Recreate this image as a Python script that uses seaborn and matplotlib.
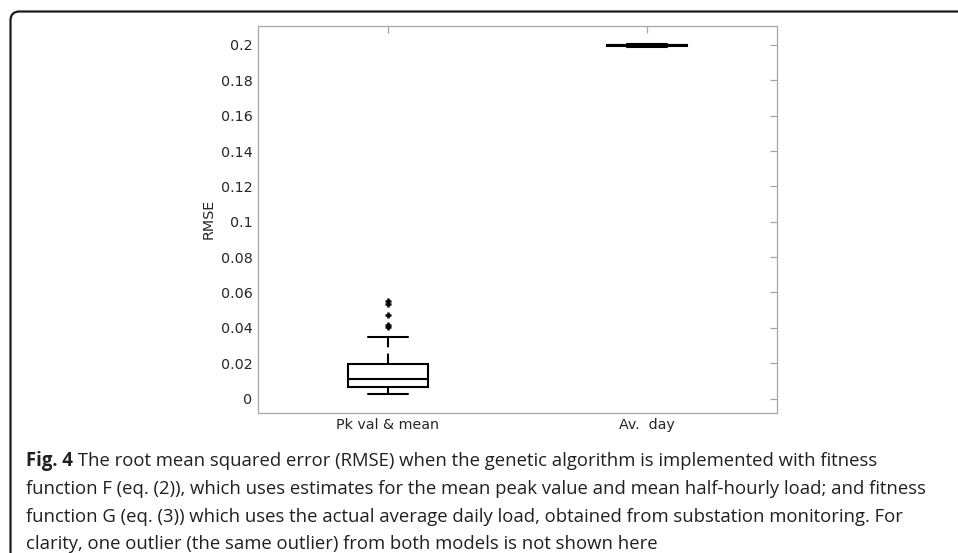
import numpy as np
import pandas as pd
import matplotlib
matplotlib.use("Agg")
import matplotlib.pyplot as plt
import seaborn as sns
from matplotlib.patches import FancyBboxPatch
from matplotlib.transforms import IdentityTransform

# ---------------- data ----------------
categories = ["Pk val & mean", "Av.  day"]
pk_rmse = [0.0025, 0.0035, 0.0045, 0.0052, 0.0057, 0.0061, 0.0065, 0.0074,
           0.0082, 0.0090, 0.0097, 0.0104, 0.0110, 0.0122, 0.0135, 0.0150,
           0.0166, 0.0181, 0.0195, 0.0350, 0.0402, 0.0416, 0.0470, 0.0532,
           0.0550]
av_rmse = [0.1991, 0.1993, 0.1994, 0.1995, 0.1995, 0.1996, 0.1996, 0.1997,
           0.1997, 0.1997, 0.1998, 0.1998, 0.1998, 0.1998, 0.1999, 0.1999,
           0.1999, 0.2000, 0.2000, 0.2000, 0.2001, 0.2002, 0.2003, 0.2004,
           0.2005]
yticks = [0, 0.02, 0.04, 0.06, 0.08, 0.1, 0.12, 0.14, 0.16, 0.18, 0.2]
ytick_labels = ["0", "0.02", "0.04", "0.06", "0.08", "0.1", "0.12", "0.14",
                "0.16", "0.18", "0.2"]
y_label = "RMSE"
caption_bold = "Fig. 4"
caption_lines = [
    " The root mean squared error (RMSE) when the genetic algorithm is implemented with fitness",
    "function F (eq. (2)), which uses estimates for the mean peak value and mean half-hourly load; and fitness",
    "function G (eq. (3)) which uses the actual average daily load, obtained from substation monitoring. For",
    "clarity, one outlier (the same outlier) from both models is not shown here",
]

df = pd.DataFrame({
    "model": [categories[0]] * len(pk_rmse) + [categories[1]] * len(av_rmse),
    "rmse": pk_rmse + av_rmse,
})

# ---------------- style ----------------
sns.set_theme(style="white")
plt.rcParams['font.family'] = ['DejaVu Sans']

W, H = 958, 553
fig = plt.figure(figsize=(W / 100, H / 100), dpi=100)
fig.patch.set_facecolor("white")

ax_l, ax_r, ax_t, ax_b = 258, 777, 26, 412.5
ax = fig.add_axes([ax_l / W, 1 - ax_b / H, (ax_r - ax_l) / W, (ax_b - ax_t) / H])

sns.boxplot(
    data=df, x="model", y="rmse", order=categories, ax=ax,
    width=0.31, color="white", linecolor="black", linewidth=1.5,
    whis=1.5, fliersize=5,
    flierprops=dict(marker="+", markeredgecolor="black", markeredgewidth=1.8),
    whiskerprops=dict(linestyle=(0, (5, 3))),
    capprops=dict(linestyle="-"),
    medianprops=dict(color="black"),
)

ax.set_xlim(-0.5, 1.5)
ax.set_ylim(-0.0079, 0.2107)
ax.set_yticks(yticks)
ax.set_yticklabels(ytick_labels)
ax.set_xlabel("")
ax.set_ylabel(y_label, fontsize=10.3, color="#262626")
ax.yaxis.set_label_coords((216 - ax_l) / (ax_r - ax_l), 0.5)

spine_c = "#a6a6a6"
for s in ax.spines.values():
    s.set_visible(True)
    s.set_color(spine_c)
    s.set_linewidth(0.9)
ax.tick_params(axis="both", direction="in", length=5, width=0.9,
               color=spine_c, labelcolor="#262626", labelsize=10.3,
               top=True, right=True, pad=4)
ax.grid(False)

# ---------------- frame (rounded top-left corner) ----------------
fx, fy, r = 10.5, 11.5, 9
frame = FancyBboxPatch((fx, -60), W + 60, (H - fy) + 60,
                       boxstyle=f"round,pad=0,rounding_size={r}",
                       fill=False, edgecolor="#1a1a1a", linewidth=1.6,
                       transform=IdentityTransform(), clip_on=False)
fig.add_artist(frame)

# ---------------- caption (pixel overlay) ----------------
fax = fig.add_axes([0, 0, 1, 1], zorder=-1)
fax.set_xlim(0, W)
fax.set_ylim(H, 0)
fax.axis("off")

cap_font = ["Open Sans", "DejaVu Sans"]
cap_color = "#231f20"
renderer = fig.canvas.get_renderer()
probe = fax.text(0, 0, caption_lines[1], family=cap_font, fontsize=12)
w12 = probe.get_window_extent(renderer).width
probe.remove()
cap_fs = 12 * (923 - 26) / w12

x0 = 26
baselines = [466, 494, 522, 549]
tb = fax.text(x0, baselines[0], caption_bold, family=cap_font, fontsize=cap_fs,
              fontweight="bold", color=cap_color, va="baseline", ha="left")
bw = tb.get_window_extent(renderer).width
fax.text(x0 + bw, baselines[0], caption_lines[0], family=cap_font, fontsize=cap_fs,
         color=cap_color, va="baseline", ha="left")
for line, yb in zip(caption_lines[1:], baselines[1:]):
    fax.text(x0, yb, line, family=cap_font, fontsize=cap_fs, color=cap_color,
             va="baseline", ha="left")

fig.savefig("out.png", dpi=100)
